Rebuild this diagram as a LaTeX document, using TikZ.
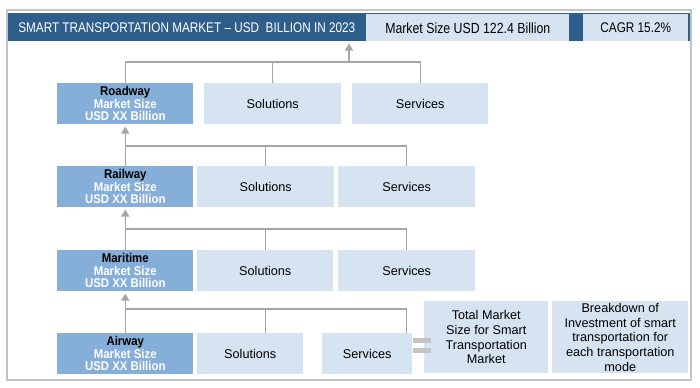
\documentclass[tikz,border=0pt]{standalone}
\usepackage{fontspec}
\setmainfont{Liberation Sans}
\newfontfamily\narrowfont[FakeStretch=0.84, Ligatures=TeX]{Liberation Sans}
\newfontfamily\catfont[FakeStretch=0.9]{Liberation Sans}
\usetikzlibrary{arrows.meta, % for triangle tips
                calc,
                positioning}

\definecolor{headblue}{HTML}{2E5E8C}
\definecolor{catblue}{HTML}{85AED9}
\definecolor{paleblue}{HTML}{D6E3F1}
\definecolor{linegray}{HTML}{A6A6A6}
\definecolor{framegray}{HTML}{C4C4C4}
\newcommand\px{0.75pt}
\newcommand\catlabel[1]{#1\\\textcolor{white}{Market Size}\\\textcolor{white}{USD XX Billion}}

\begin{document}
\begin{tikzpicture}[x=0.75pt, y=-0.75pt,
                    Cat/.style={fill=catblue, anchor=north west, inner sep=0pt, align=center,
                                minimum width=136*\px, minimum height=41*\px,
                                font=\catfont\bfseries\fontsize{9.5}{9.4}\selectfont},
                    Pale/.style={fill=paleblue, anchor=north west, inner sep=0pt, align=center,
                                 minimum height=41*\px, font=\fontsize{9.5}{11}\selectfont},
                    link/.style={linegray, line width=0.9pt},
                    linkarrow/.style={link, -{Triangle[width=8*\px, length=7*\px]}, shorten >=2*\px}
                    ]
    \useasboundingbox (0,0) rectangle (700,388);

    % FRAME AND HEADER %
    \draw[framegray, line width=1.1pt] (7,10) rectangle (691,380);
    \node[fill=headblue, anchor=north west, inner sep=0pt,
          minimum width=682*\px, minimum height=28*\px] (head) at (8,13) {};
    \node[anchor=west, inner sep=0pt, text=white,
          font=\narrowfont\fontsize{10.5}{12}\selectfont] (title) at (18,27.5)
          {SMART TRANSPORTATION MARKET – USD~ BILLION IN 2023};
    \node[Pale, minimum width=203*\px, minimum height=27*\px,
          font=\narrowfont\fontsize{11}{12}\selectfont] (mkt) at (366,14) {Market Size USD 122.4 Billion};
    \node[Pale, minimum width=105*\px, minimum height=27*\px,
          font=\narrowfont\fontsize{10.5}{12}\selectfont] (cagr) at (583,14) {CAGR 15.2\%};

    % MODES %
    \foreach \name/\lbl/\y in {road/Roadway/83, rail/Railway/166, mar/Maritime/250, air/Airway/333}
    \node[Cat] (\name) at (57,\y) {\catlabel{\lbl}};

    \node[Pale, minimum width=137*\px] (road-sol) at (204,83) {Solutions};
    \node[Pale, minimum width=136*\px] (road-srv) at (352,83) {Services};
    \node[Pale, minimum width=137*\px] (rail-sol) at (197,166) {Solutions};
    \node[Pale, minimum width=137*\px] (rail-srv) at (338,166) {Services};
    \node[Pale, minimum width=136*\px] (mar-sol) at (197,250) {Solutions};
    \node[Pale, minimum width=137*\px] (mar-srv) at (338,250) {Services};
    \node[Pale, minimum width=106*\px] (air-sol) at (197,333) {Solutions};
    \node[Pale, minimum width=90*\px] (air-srv) at (322,333) {Services};

    \node[Pale, minimum width=124*\px, minimum height=72*\px, font=\fontsize{9.5}{11}\selectfont] (total) at (424,301)
          {Total Market\\Size for Smart\\Transportation\\Market};
    \node[Pale, minimum width=136*\px, minimum height=72*\px, font=\fontsize{9.5}{11}\selectfont] (split) at (552,301)
          {Breakdown of\\Investment of smart\\transportation for\\each transportation\\mode};

    % EQUALS %
    \fill[framegray] (413,338) rectangle (431,343);
    \fill[framegray] (413,348) rectangle (431,353);

    % BUS LINES %
    \coordinate (bus1) at (349,62);
    \coordinate (bus2) at (0,146);
    \coordinate (bus3) at (0,229);
    \coordinate (bus4) at (0,309);

    \draw[link] (road.north) -- (road.north |- bus1) -- (road-srv.north |- bus1) -- (road-srv.north);
    \draw[link] (road-sol.north) -- (road-sol.north |- bus1);
    \draw[linkarrow] (bus1) -- (head.south -| bus1);

    \foreach \up/\low/\b in {road/rail/2, rail/mar/3}{
    \draw[link] (\low.north) -- (\low.north |- bus\b) -- (\low-srv.north |- bus\b) -- (\low-srv.north);
    \draw[link] (\low-sol.north) -- (\low-sol.north |- bus\b);
    \draw[linkarrow] (\low.north |- bus\b) -- (\up.south);
    }

    \draw[link] (air.north) -- (air.north |- bus4) -- (mar-srv.south |- bus4) -- (mar-srv.south |- air-srv.north);
    \draw[link] (mar-sol.south |- bus4) -- (mar-sol.south |- air-sol.north);
    \draw[linkarrow] (air.north |- bus4) -- (mar.south);
\end{tikzpicture}
\end{document}
